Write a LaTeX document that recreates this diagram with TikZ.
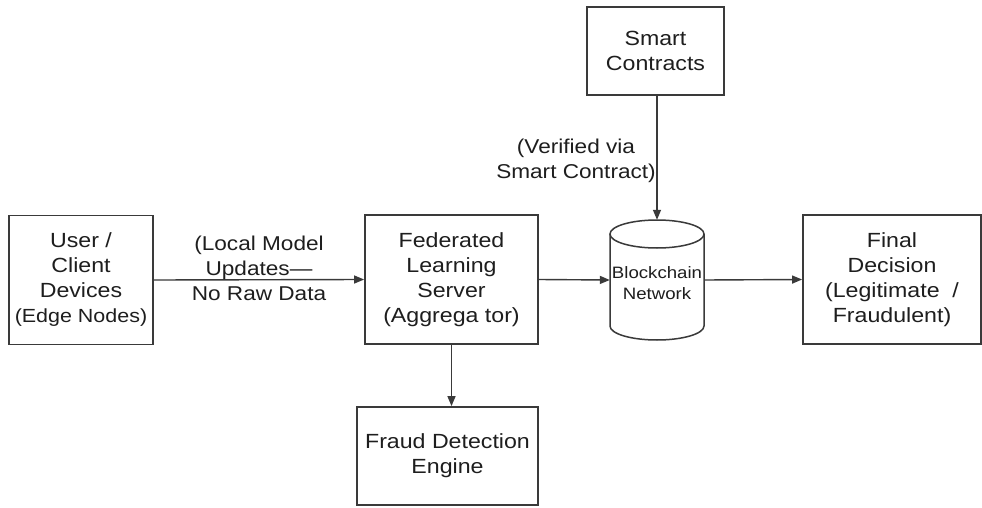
\documentclass[tikz,border=0pt]{standalone}
\usepackage{fontspec}
\setmainfont{Liberation Sans}[FakeStretch=1.13]
\usetikzlibrary{arrows.meta}
\definecolor{ln}{HTML}{3A3A3A}
\definecolor{tx}{HTML}{1E1E1E}
\tikzset{
  box/.style={draw=ln, line width=1.8pt, rectangle, inner sep=0pt, align=center, text=tx,
    font=\fontsize{20.5}{25}\selectfont},
  lbl/.style={align=center, text=tx, font=\fontsize{20}{25}\selectfont, inner sep=0pt},
  arr/.style={draw=ln, line width=1.4pt, -{Triangle[length=10pt,width=8pt]}}
}
\begin{document}
\begin{tikzpicture}[x=1pt,y=-1pt]
\useasboundingbox[fill=white] (0,0) rectangle (982,508);
\node[box, minimum width=144pt, minimum height=129pt] (user) at (81,280)
  {User /\\Client\\Devices\\{\fontsize{19}{25}\selectfont (Edge Nodes)}};
\node[box, minimum width=173pt, minimum height=129pt] (fed) at (451.5,279.5)
  {Federated\\Learning\\Server\\(Aggrega tor)};
\node[box, minimum width=137pt, minimum height=88pt] (smart) at (655.5,51)
  {Smart\\Contracts};
\node[rectangle, inner sep=0pt, minimum width=94pt, minimum height=120pt, align=center, text=tx,
  font=\fontsize{16.5}{21}\selectfont] (bc) at (657,280) {\\[-2pt]Blockchain\\Network};
\node[box, minimum width=178pt, minimum height=129pt] (final) at (892,279.5)
  {Final\\Decision\\(Legitimate~~/\\Fraudulent)};
\node[box, minimum width=181pt, minimum height=98pt] (fraud) at (447.5,456)
  {Fraud Detection\\Engine};
% cylinder
\draw[ln, line width=1.5pt] (657,234) ellipse [x radius=47pt, y radius=14pt];
\draw[ln, line width=1.5pt] (610,234) -- (610,326) arc[start angle=180, end angle=360, x radius=47pt, y radius=14pt] -- (704,234);
% connectors
\draw[arr] (user.east) -- (fed.west);
\draw[arr] (fed.east) -- (bc.west);
\draw[arr] (bc.east) -- (final.west);
\draw[arr] (bc.north |- smart.south) -- (bc.north);
\draw[arr] (fed.south) -- (fed.south |- fraud.north);
% labels
\node[lbl] (l1) at (259,268) {(Local Model\\Updates—\\No Raw Data};
\node[lbl] (l2) at (576,160.5) {(Verified via\\Smart Contract)};
\end{tikzpicture}
\end{document}
